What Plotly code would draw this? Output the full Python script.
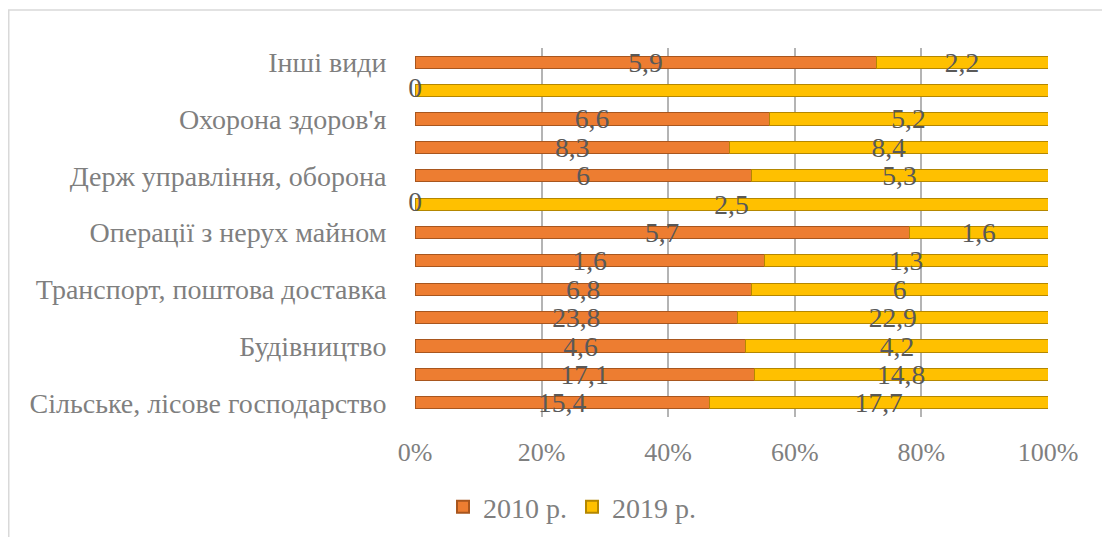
import plotly.graph_objects as go

# Categories from bottom to top (every other label is shown on the axis)
labels_shown = [
    "Сільське, лісове господарство",
    "Будівництво",
    "Транспорт, поштова доставка",
    "Операції з нерух майном",
    "Держ управління, оборона",
    "Охорона здоров'я",
    "Інші види",
]
values_2010 = [15.4, 17.1, 4.6, 23.8, 6.8, 1.6, 5.7, 0, 6, 8.3, 6.6, 0, 5.9]
values_2019 = [17.7, 14.8, 4.2, 22.9, 6, 1.3, 1.6, 2.5, 5.3, 8.4, 5.2, 1.2, 2.2]
series_names = ["2010 р.", "2019 р."]
x_ticks = [0, 20, 40, 60, 80, 100]

n = len(values_2010)
ypos = list(range(n))

def fmt(v):
    return ("%g" % v).replace(".", ",")

FONT = "Liberation Serif, Times New Roman, serif"
LBL = "#595959"
AX = "#7F7F7F"

fig = go.Figure()
for name, vals, col, edge in [
    (series_names[0], values_2010, "#ED7D31", "#A8561E"),
    (series_names[1], values_2019, "#FFC000", "#B48700"),
]:
    fig.add_trace(go.Bar(
        name=name, y=ypos, x=vals, orientation="h",
        marker=dict(color=col, line=dict(color=edge, width=1)),
        text=[fmt(v) if v != 0 else "" for v in vals],
        textposition="inside", insidetextanchor="middle", textangle=0,
        constraintext="none", cliponaxis=False,
        textfont=dict(family=FONT, size=27.5, color=LBL),
        hoverinfo="skip",
    ))

# zero-value labels at the baseline
zero_y = [y for y, v in zip(ypos, values_2010) if v == 0]
fig.add_trace(go.Scatter(
    x=[0] * len(zero_y), y=zero_y, mode="text",
    text=[fmt(0)] * len(zero_y),
    textfont=dict(family=FONT, size=27.5, color=LBL),
    showlegend=False, cliponaxis=False, hoverinfo="skip",
))

W, H = 1110, 537
OFF = 8  # page body margin
L, R, T, B = 415 - OFF, W - (1048 - OFF), 48 - OFF, H - (417 - OFF)
pw, ph = W - L - R, H - T - B

fig.update_layout(
    barmode="stack", barnorm="percent", bargap=0.57,
    width=W, height=H,
    margin=dict(l=L, r=R, t=T, b=B, pad=0, autoexpand=False),
    paper_bgcolor="white", plot_bgcolor="white",
    font=dict(family=FONT, size=26, color=AX),
    showlegend=True,
    legend=dict(orientation="h", x=(572 - OFF - L) / pw, xanchor="center",
                y=(H - B - (507 - OFF)) / ph, yanchor="middle",
                font=dict(family=FONT, size=28, color=AX),
                itemsizing="constant", traceorder="normal", itemwidth=30),
    xaxis=dict(range=[0, 100], tickvals=x_ticks,
               ticktext=[f"{v}%" for v in x_ticks], tickangle=0,
               showgrid=True, gridcolor="#B4B4B4", gridwidth=2,
               zeroline=False, showline=False, automargin=False,
               ticks="outside", ticklen=12, tickcolor="rgba(0,0,0,0)",
               tickfont=dict(family=FONT, size=26, color=AX)),
    yaxis=dict(range=[-0.5, n - 0.5], tickvals=ypos[::2],
               ticktext=labels_shown, showgrid=False, zeroline=False,
               showline=False, ticks="outside", ticklen=22, automargin=False,
               tickcolor="rgba(0,0,0,0)",
               tickfont=dict(family=FONT, size=28, color=AX)),
    shapes=[dict(type="rect", xref="paper", yref="paper",
                 x0=(0.75 - L) / pw, x1=(W + 10 - L) / pw,
                 y0=(H - B - (H + 10)) / ph, y1=(H - B - (10 - OFF)) / ph,
                 line=dict(color="#D9D9D9", width=1.5), layer="below")],
)

fig.write_html("out.html")
